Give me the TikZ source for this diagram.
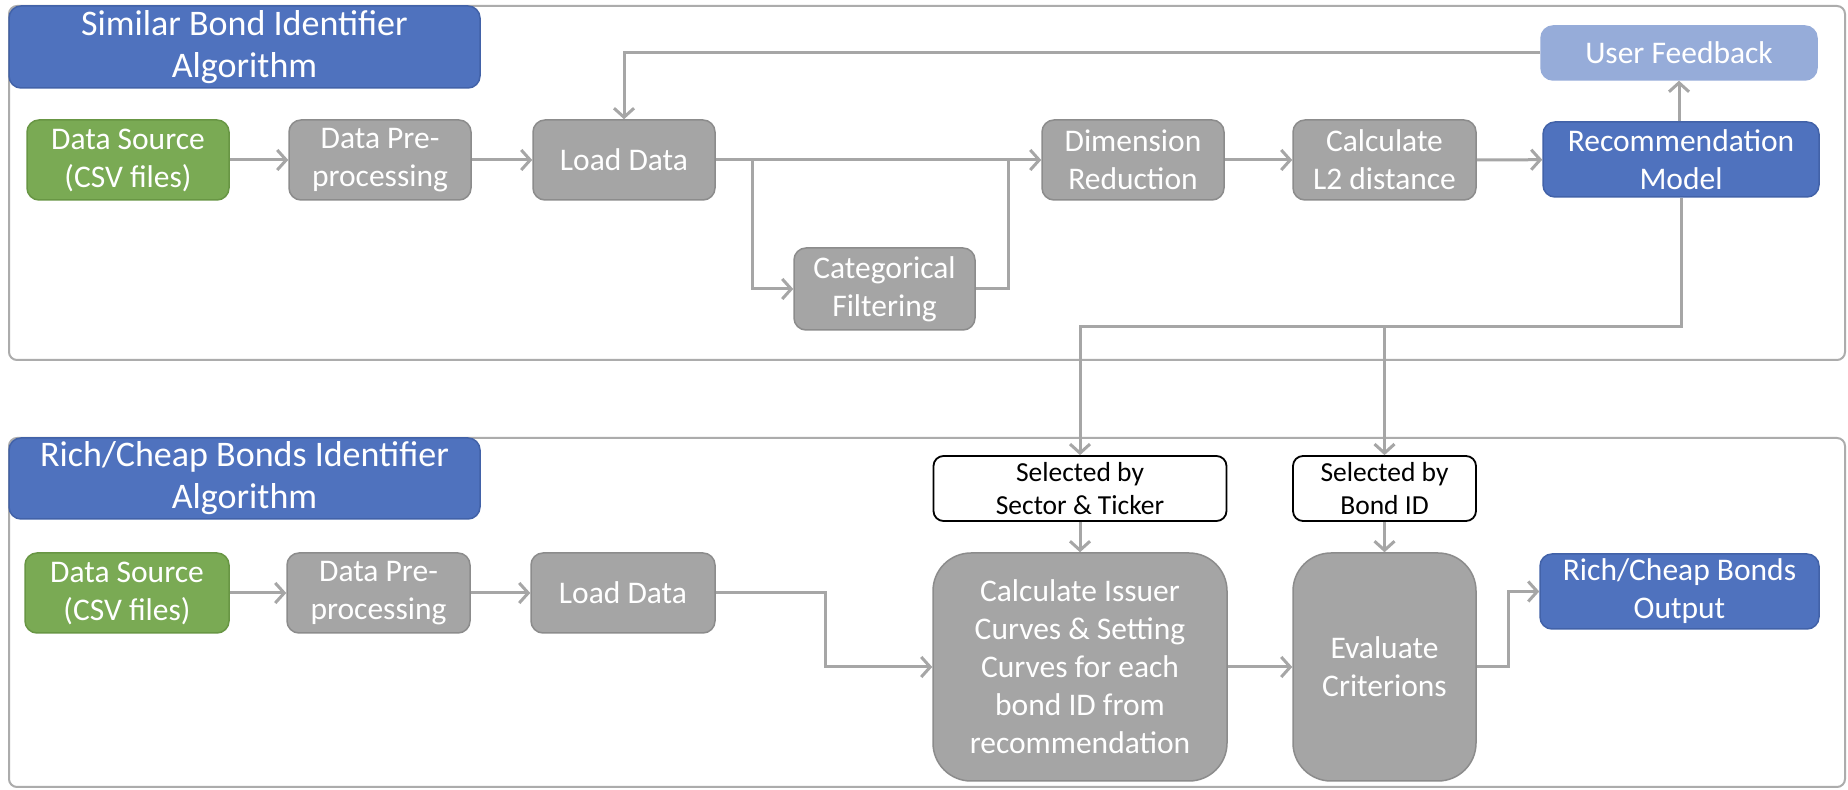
\documentclass[tikz,border=0pt]{standalone}
\usepackage{fontspec}
\setmainfont{Carlito}
\usetikzlibrary{arrows.meta}

\begin{document}
\begin{tikzpicture}[x=1pt,y=1pt,
  box/.style={rectangle,rounded corners=12pt,inner sep=0pt,align=center,text=white,line width=1.5pt,font=\fontsize{31.5}{38}\selectfont},
  graybox/.style={box,fill=boxGray,draw=boxGrayLine},
  greenbox/.style={box,fill=srcGreen,draw=srcGreenLine},
  bluebox/.style={box,fill=algoBlue,draw=algoBlueLine},
  titlebox/.style={bluebox,font=\fontsize{36}{42}\selectfont},
  selbox/.style={box,fill=white,draw=black,text=black,line width=1.8pt,rounded corners=10pt,font=\fontsize{27.5}{33}\selectfont},
  link/.style={draw=lineGray,line width=3pt,-{Straight Barb[length=9pt,width=20pt]}},
  joint/.style={draw=lineGray,line width=3pt},
  panel/.style={draw=panelGray,line width=2pt,rounded corners=8pt}]
\definecolor{algoBlue}{RGB}{79,114,190}
\definecolor{algoBlueLine}{RGB}{66,98,168}
\definecolor{feedBlue}{RGB}{150,172,217}
\definecolor{srcGreen}{RGB}{122,170,84}
\definecolor{srcGreenLine}{RGB}{104,150,68}
\definecolor{boxGray}{RGB}{165,165,165}
\definecolor{boxGrayLine}{RGB}{140,140,140}
\definecolor{lineGray}{RGB}{166,166,166}
\definecolor{panelGray}{RGB}{172,172,172}

\path[use as bounding box,fill=white] (0,0) rectangle (1848,790);

\path[panel] (9,784) rectangle (1845,430);

\path[panel] (9,352) rectangle (1845,3);

\node[titlebox,minimum width=471pt,minimum height=82pt] (simTitle) at (244.5,743) {Similar Bond Identifier\\Algorithm};

\node[greenbox,minimum width=202pt,minimum height=80pt] (src1) at (128,630) {Data Source\\(CSV files)};

\node[graybox,minimum width=182pt,minimum height=80pt] (pre1) at (380,630) {Data Pre-\\processing};

\node[graybox,minimum width=182pt,minimum height=80pt] (load1) at (624,630) {Load Data};

\node[graybox,minimum width=181pt,minimum height=82pt] (cat) at (884.5,501) {Categorical\\Filtering};

\node[graybox,minimum width=182pt,minimum height=80pt] (dim) at (1133,630) {Dimension\\Reduction};

\node[graybox,minimum width=183pt,minimum height=80pt] (l2) at (1384.5,630) {Calculate\\L2 distance};

\node[bluebox,minimum width=276pt,minimum height=75pt] (rec) at (1681,630.5) {Recommendation\\Model};

\node[box,fill=feedBlue,draw=feedBlue,minimum width=276pt,minimum height=54pt] (fb) at (1679,737) {User Feedback};

\coordinate (split) at (752,630);
\coordinate (join) at (1008,630);
\coordinate (fork) at (1384.5,463);

\draw[link] (src1) -- (pre1);

\draw[link] (pre1) -- (load1);

\draw[link] (load1.east) -- (dim.west);

\draw[link] (split) |- (cat.west);

\draw[joint] (cat.east) -| (join);

\draw[link] (dim) -- (l2);

\draw[link] (l2) -- (rec);

\draw[link] (rec.north -| fb.south) -- (fb.south);

\draw[link] (fb.west) -| (load1.north);

\node[titlebox,minimum width=471pt,minimum height=81pt] (richTitle) at (244.5,311.5) {Rich/Cheap Bonds Identifier\\Algorithm};

\node[greenbox,minimum width=204pt,minimum height=80pt] (src2) at (127,197) {Data Source\\(CSV files)};

\node[graybox,minimum width=183pt,minimum height=80pt] (pre2) at (378.5,197) {Data Pre-\\processing};

\node[graybox,minimum width=184pt,minimum height=80pt] (load2) at (623,197) {Load Data};

\node[selbox,minimum width=293pt,minimum height=65pt] (sel1) at (1080,301.5) {Selected by\\Sector \& Ticker};

\node[selbox,minimum width=183pt,minimum height=65pt] (sel2) at (1384.5,301.5) {Selected by\\Bond ID};

\node[graybox,rounded corners=38pt,minimum width=294pt,minimum height=228pt] (calc) at (1080,123) {Calculate Issuer\\Curves \& Setting\\Curves for each\\bond ID from\\recommendation};

\node[graybox,rounded corners=38pt,minimum width=183pt,minimum height=228pt] (eval) at (1384.5,123) {Evaluate\\Criterions};

\node[bluebox,minimum width=279pt,minimum height=75pt] (out) at (1679.5,198.5) {Rich/Cheap Bonds\\Output};

\draw[link] (rec.south) |- (fork) -| (sel1.north);

\draw[link] (fork) -- (sel2.north);

\draw[link] (src2) -- (pre2);

\draw[link] (pre2) -- (load2);

\draw[link] (load2.east) -- ++(110,0) |- (calc.west);

\draw[link] (sel1) -- (calc);

\draw[link] (sel2) -- (eval);

\draw[link] (calc) -- (eval);

\draw[link] (eval.east) -- ++(32,0) |- (out.west);
\end{tikzpicture}
\end{document}
